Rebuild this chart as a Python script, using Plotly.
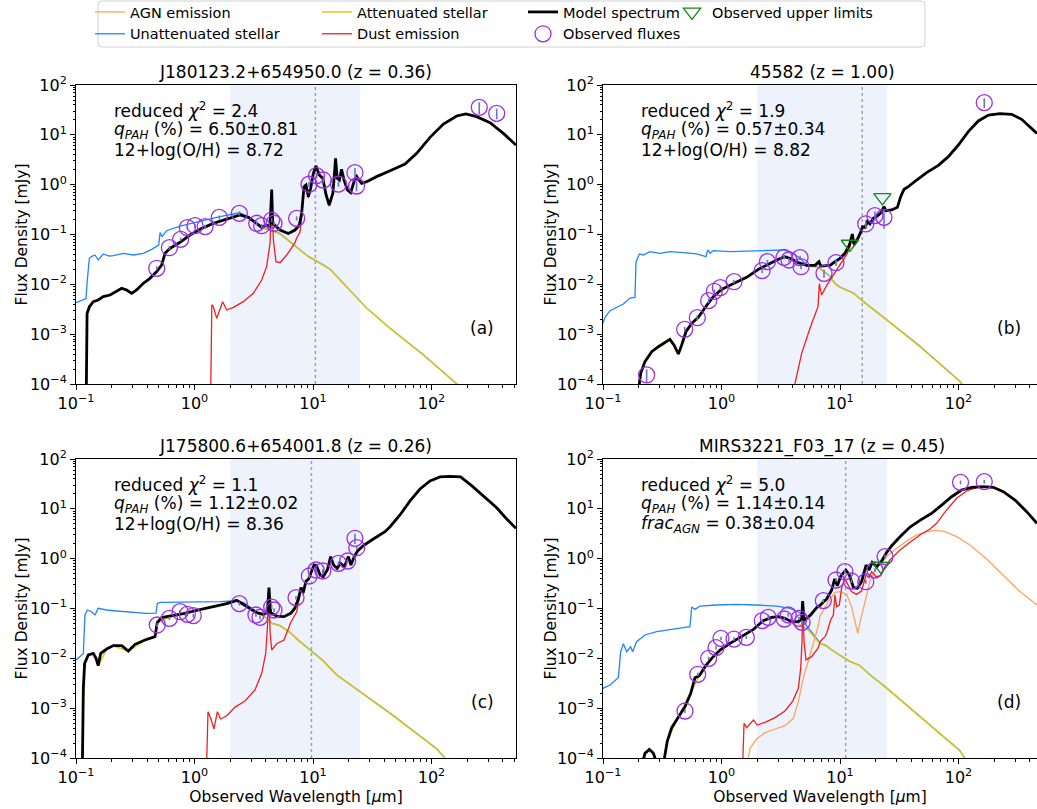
import plotly.graph_objects as go

# ---------------------------------------------------------------
# SED fits: wavelength [um] / flux density [mJy] pairs per component
# ---------------------------------------------------------------

# (a) J180123.2+654950.0, z = 0.36
a_unatt = [(0.1, 4.3e-3), (0.1214, 5.2e-3), (0.1246, 0.0122), (0.1296, 0.0333), (0.135, 0.036),
           (0.1445, 0.0388), (0.154, 0.0308), (0.170, 0.0407), (0.19, 0.037), (0.2065, 0.0376),
           (0.251, 0.0419), (0.305, 0.0388), (0.370, 0.0419), (0.435, 0.0503), (0.499, 0.0615),
           (0.512, 0.109), (0.532, 0.0906), (0.582, 0.119), (0.755, 0.148), (0.977, 0.172),
           (1.27, 0.195), (1.64, 0.228), (2.13, 0.258), (2.42, 0.274), (2.85, 0.225), (3.24, 0.176),
           (3.69, 0.14), (3.94, 0.131), (4.48, 0.121), (5.27, 0.104), (6.4, 0.073), (7.76, 0.0495),
           (9.13, 0.0363), (10.4, 0.0311), (11.5, 0.0266), (13.9, 0.0202), (18.0, 0.0106),
           (28.4, 3.33e-3), (44.7, 1.32e-3), (85.3, 3.85e-4), (163, 1.01e-4), (198, 6.6e-5)]
a_att = [(0.122, 5e-5), (0.124, 2.6e-3), (0.140, 4.45e-3), (0.170, 5.6e-3), (0.220, 7.1e-3),
         (0.243, 8.2e-3), (0.295, 6.6e-3), (0.370, 0.0104), (0.480, 0.0179), (0.528, 0.0243),
         (0.564, 0.0417), (0.755, 0.0695), (1.11, 0.1265), (1.44, 0.166), (1.87, 0.2),
         (2.42, 0.244), (2.85, 0.219), (3.24, 0.171), (3.69, 0.136), (3.94, 0.129), (4.48, 0.119),
         (5.27, 0.102), (6.4, 0.0718), (7.76, 0.0489), (9.13, 0.0359), (10.4, 0.0308),
         (11.5, 0.0264), (13.9, 0.020), (18.0, 0.0105), (28.4, 3.3e-3), (44.7, 1.31e-3),
         (85.3, 3.82e-4), (163, 1.0e-4), (198, 6.5e-5)]
a_dust = [(1.369, 5e-5), (1.40, 3.9e-3), (1.44, 3.6e-3), (1.54, 2.08e-3), (1.73, 4.49e-3),
          (1.87, 3.05e-3), (2.13, 3.46e-3), (2.58, 4.49e-3), (3.14, 6.6e-3), (3.69, 0.0122),
          (4.06, 0.0226), (4.34, 0.0665), (4.48, 0.67), (4.63, 0.0776), (4.87, 0.0285),
          (5.27, 0.0272), (6.0, 0.0388), (7.05, 0.0685), (7.28, 0.085), (7.76, 0.11),
          (8.02, 0.215), (8.40, 0.86), (8.73, 0.94), (9.13, 0.535), (9.56, 0.81), (10.07, 1.65),
          (10.6, 2.33), (11.3, 1.53), (12.1, 1.31), (12.9, 0.59), (13.7, 0.37), (14.7, 0.65),
          (15.1, 1.43), (15.5, 3.35), (16.0, 1.32), (16.7, 1.23), (17.4, 2.02), (18.3, 1.23),
          (19.5, 0.77), (20.8, 0.68), (22.2, 1.14), (23.4, 1.44), (24.4, 1.23), (25.7, 1.055),
          (28.4, 1.147), (34.4, 1.448), (44.7, 1.91), (59.8, 2.6), (75.0, 4.26), (97.1, 8.9),
          (126, 16.5), (163, 23.9), (195, 26.2), (240, 23.2), (312, 17.5), (404, 10.7), (516, 6.25)]
a_model = [(0.122, 5e-5), (0.124, 2.6e-3), (0.1296, 3.56e-3), (0.140, 4.49e-3), (0.154, 4.85e-3),
           (0.170, 5.66e-3), (0.194, 6.11e-3), (0.220, 7.13e-3), (0.243, 8.3e-3), (0.268, 7.7e-3),
           (0.295, 6.6e-3), (0.325, 7.7e-3), (0.370, 0.0105), (0.421, 0.0132), (0.480, 0.0180),
           (0.528, 0.0244), (0.564, 0.0419), (0.621, 0.0527), (0.755, 0.0697), (0.916, 0.0977),
           (1.11, 0.127), (1.44, 0.167), (1.87, 0.201), (2.42, 0.246), (2.85, 0.221), (3.24, 0.173),
           (3.69, 0.139), (4.06, 0.155), (4.34, 0.144), (4.48, 0.80), (4.57, 0.168), (5.27, 0.123),
           (6.19, 0.105), (7.05, 0.123), (7.67, 0.155), (8.02, 0.266), (8.40, 0.91), (8.73, 0.985),
           (9.13, 0.574), (9.56, 0.845), (10.07, 1.69), (10.6, 2.37), (11.3, 1.56), (12.1, 1.34),
           (12.9, 0.621), (13.7, 0.391), (14.7, 0.67), (15.1, 1.45), (15.5, 3.37), (16.0, 1.34),
           (16.7, 1.24), (17.4, 2.03), (18.3, 1.24), (19.5, 0.78), (20.8, 0.69), (22.2, 1.15),
           (23.4, 1.45), (24.4, 1.24), (25.7, 1.06), (28.4, 1.15), (34.4, 1.45), (44.7, 1.91),
           (59.8, 2.60), (75.0, 4.26), (97.1, 8.9), (126, 16.5), (163, 23.9), (195, 26.2),
           (240, 23.2), (312, 17.5), (404, 10.7), (516, 6.25)]
a_obs = [(0.48, 0.021), (0.614, 0.0544), (0.764, 0.080), (0.87, 0.137), (1.01, 0.150), (1.23, 0.144),
         (1.62, 0.221), (2.39, 0.266), (3.35, 0.168), (3.69, 0.150), (4.48, 0.195), (4.69, 0.168),
         (7.28, 0.211), (9.25, 1.02), (10.7, 1.52), (12.2, 1.24), (16.4, 1.03), (22.6, 1.74),
         (23.3, 0.94), (253, 35.6), (355, 27.0)]
a_obs_err = [0.002, 0.005, 0.007, 0.012, 0.013, 0.013, 0.02, 0.025, 0.015, 0.014, 0.018, 0.015,
             0.02, 0.12, 0.18, 0.15, 0.12, 0.42, 0.2, 9.5, 6.5]
a_upper = []

# (b) 45582, z = 1.00
b_unatt = [(0.1, 1.66e-3), (0.104, 2.18e-3), (0.1146, 2.96e-3), (0.130, 3.46e-3), (0.1485, 4.03e-3),
           (0.169, 5.3e-3), (0.186, 5.48e-3), (0.190, 0.0285), (0.203, 0.0407), (0.219, 0.0388),
           (0.249, 0.0453), (0.303, 0.0419), (0.367, 0.0453), (0.477, 0.0433), (0.616, 0.0407),
           (0.740, 0.0359), (0.764, 0.0489), (0.80, 0.0419), (0.853, 0.0474), (1.18, 0.0453),
           (1.74, 0.0467), (2.57, 0.0474), (3.32, 0.0489), (3.91, 0.0433), (4.6, 0.0333),
           (5.23, 0.0245), (6.36, 0.0226), (6.78, 0.021), (8.24, 0.0145), (9.07, 0.0104),
           (10.0, 8.8e-3), (13.0, 6.7e-3), (15.7, 4.55e-3), (24.8, 1.95e-3), (47.3, 5.7e-4),
           (103, 1.13e-4), (113.5, 8.3e-5)]
b_att = [(0.195, 5e-5), (0.208, 1.64e-4), (0.226, 2.8e-4), (0.2575, 4.45e-4), (0.333, 6.7e-4),
         (0.367, 7.85e-4), (0.4325, 4.0e-4), (0.501, 1.11e-3), (0.637, 2.17e-3), (0.853, 5.64e-3),
         (1.26, 0.0105), (1.63, 0.0137), (2.05, 0.0199), (2.48, 0.0255), (3.02, 0.0316),
         (3.43, 0.0356), (3.91, 0.032), (4.17, 0.0295), (4.45, 0.027), (5.23, 0.0236),
         (6.36, 0.0220), (6.78, 0.0205), (8.24, 0.0143), (9.07, 0.0102), (10.0, 8.7e-3),
         (13.0, 6.6e-3), (15.7, 4.49e-3), (24.8, 1.92e-3), (47.3, 5.6e-4), (103, 1.11e-4),
         (113.5, 8.2e-5)]
b_dust = [(3.9, 5e-5), (4.75, 4.12e-4), (5.58, 1.31e-3), (6.52, 3.56e-3), (6.69, 0.0102),
          (7.0, 6.1e-3), (7.72, 9.5e-3), (8.79, 0.0155), (10.0, 0.024), (11.4, 0.04), (12.1, 0.055),
          (12.7, 0.095), (13.1, 0.058), (14.0, 0.074), (14.9, 0.103), (15.5, 0.138), (16.3, 0.134),
          (17.0, 0.176), (17.9, 0.158), (19.1, 0.206), (20.6, 0.231), (22.2, 0.27), (23.5, 0.358),
          (24.4, 0.297), (27.3, 0.308), (30.5, 0.349), (32.5, 0.572), (34.7, 0.804), (37.7, 0.91),
          (44.4, 1.24), (53.8, 1.74), (67.6, 2.44), (82.1, 3.65), (99.7, 6.25), (121, 11.6),
          (147, 19.0), (179, 25.0), (224, 26.6), (281, 25.8), (341, 20.5), (401, 14.6), (459, 10.7)]
b_model = [(0.195, 5e-5), (0.208, 1.64e-4), (0.226, 2.81e-4), (0.2575, 4.46e-4), (0.293, 5.6e-4),
           (0.333, 6.76e-4), (0.367, 7.88e-4), (0.397, 6.07e-4), (0.4325, 4.0e-4), (0.4615, 6.07e-4),
           (0.501, 1.12e-3), (0.560, 1.65e-3), (0.637, 2.18e-3), (0.750, 3.79e-3), (0.853, 5.66e-3),
           (1.0, 7.94e-3), (1.26, 0.0105), (1.63, 0.0138), (2.05, 0.020), (2.48, 0.0256),
           (3.02, 0.0318), (3.43, 0.0359), (3.91, 0.0322), (4.45, 0.0272), (5.23, 0.024),
           (6.15, 0.024), (6.65, 0.0285), (6.87, 0.0233), (7.23, 0.0237), (8.24, 0.024),
           (9.07, 0.0285), (10.0, 0.0333), (11.0, 0.0419), (12.0, 0.0615), (12.7, 0.102),
           (13.1, 0.0644), (14.0, 0.080), (14.9, 0.109), (15.5, 0.144), (16.3, 0.139), (17.0, 0.181),
           (17.9, 0.163), (19.1, 0.211), (20.6, 0.235), (22.2, 0.274), (23.5, 0.362), (24.4, 0.30),
           (27.3, 0.31), (30.5, 0.351), (32.5, 0.574), (34.7, 0.806), (37.7, 0.912), (44.4, 1.24),
           (53.8, 1.74), (67.6, 2.44), (82.1, 3.65), (99.7, 6.25), (121, 11.6), (147, 19.0),
           (179, 25.0), (224, 26.6), (281, 25.8), (341, 20.5), (401, 14.6), (459, 10.7)]
b_obs = [(0.2335, 1.52e-4), (0.489, 1.25e-3), (0.625, 2.14e-3), (0.779, 4.7e-3), (0.87, 7.24e-3),
         (0.977, 8.57e-3), (1.275, 0.0113), (2.2, 0.0188), (2.44, 0.0285), (3.37, 0.0348),
         (3.71, 0.0308), (4.6, 0.0343), (4.69, 0.0226), (7.33, 0.0166), (9.25, 0.0272),
         (16.5, 0.163), (19.7, 0.239), (23.5, 0.221), (165, 44.2)]
b_obs_err = [4.5e-5, 1.5e-4, 2.5e-4, 5e-4, 7e-4, 8e-4, 1e-3, 2e-3, 2.5e-3, 3e-3, 3e-3, 3e-3,
             2.5e-3, 3e-3, 4e-3, 0.03, 0.05, 0.09, 10]
b_upper = [(12.1, 0.0644), (22.8, 0.557)]

# (c) J175800.6+654001.8, z = 0.26
c_unatt = [(0.1, 9.3e-3), (0.1153, 0.0124), (0.119, 0.0741), (0.1246, 0.0933), (0.1355, 0.0863),
           (0.1445, 0.0741), (0.154, 0.1007), (0.1815, 0.0933), (0.220, 0.0891), (0.286, 0.0838),
           (0.394, 0.080), (0.473, 0.081), (0.485, 0.125), (0.512, 0.133), (0.755, 0.133),
           (1.11, 0.137), (1.64, 0.137), (2.13, 0.1415), (2.58, 0.133), (2.94, 0.106), (3.35, 0.085),
           (3.81, 0.072), (4.48, 0.051), (5.27, 0.0452), (6.4, 0.0331), (7.76, 0.0217),
           (9.44, 0.0149), (12.2, 8.95e-3), (15.8, 4.68e-3), (24.9, 2.16e-3), (44.7, 7.95e-4),
           (110.6, 1.53e-4), (130, 9.9e-5)]
c_att = [(0.113, 5e-5), (0.1168, 7.6e-3), (0.127, 0.0116), (0.140, 0.0125), (0.154, 7.1e-3),
         (0.1815, 0.0153), (0.2065, 0.0179), (0.2765, 0.0139), (0.382, 0.0232), (0.464, 0.0271),
         (0.485, 0.0518), (0.641, 0.0704), (1.04, 0.0915), (1.40, 0.1065), (1.87, 0.1245),
         (2.27, 0.1455), (2.58, 0.1205), (2.94, 0.1), (3.35, 0.081), (3.81, 0.0706), (4.48, 0.0503),
         (5.27, 0.0446), (6.4, 0.0327), (7.76, 0.0214), (9.44, 0.0147), (12.2, 8.86e-3),
         (15.8, 4.63e-3), (24.9, 2.14e-3), (44.7, 7.88e-4), (110.6, 1.52e-4), (130, 9.8e-5)]
c_dust = [(1.26, 5e-5), (1.30, 8.5e-4), (1.37, 6.25e-4), (1.46, 3.82e-4), (1.56, 8.5e-4),
          (1.66, 6.07e-4), (1.87, 7.06e-4), (2.2, 1.05e-3), (2.67, 1.39e-3), (3.24, 2.32e-3),
          (3.69, 5.0e-3), (3.99, 0.0126), (4.14, 0.048), (4.25, 0.224), (4.34, 0.0353),
          (4.48, 0.0147), (4.94, 0.0197), (5.69, 0.0233), (6.48, 0.052), (7.28, 0.0863),
          (7.93, 0.24), (8.28, 0.19), (8.73, 0.335), (9.19, 0.37), (9.75, 0.575), (10.2, 0.73),
          (10.7, 0.71), (11.5, 0.455), (12.2, 0.422), (13.2, 0.582), (14.1, 1.09), (14.9, 0.737),
          (16.0, 0.633), (17.1, 0.8), (18.4, 0.685), (19.9, 1.095), (20.9, 0.742), (22.3, 1.097),
          (23.8, 1.427), (26.6, 1.818), (32.3, 2.478), (40.5, 3.479), (44.7, 4.379), (54.2, 7.52),
          (65.9, 14.4), (80.0, 25.0), (97.1, 36.2), (118, 43.6), (143, 44.9), (176, 43.6),
          (218, 29.2), (274, 18.4), (355, 10.5), (431, 6.25), (516, 4.06)]
c_model = [(0.113, 5e-5), (0.1153, 2.5e-3), (0.1183, 7.94e-3), (0.127, 0.0117), (0.140, 0.0126),
           (0.1476, 0.010), (0.154, 7.13e-3), (0.1615, 0.0126), (0.1815, 0.0154), (0.2065, 0.018),
           (0.243, 0.018), (0.2765, 0.014), (0.315, 0.0191), (0.382, 0.0233), (0.464, 0.0272),
           (0.485, 0.052), (0.528, 0.0655), (0.641, 0.0706), (0.805, 0.0787), (1.04, 0.0918),
           (1.40, 0.107), (1.87, 0.125), (2.27, 0.146), (2.58, 0.121), (2.94, 0.1007),
           (3.35, 0.0824), (3.81, 0.0763), (4.12, 0.0824), (4.25, 0.262), (4.39, 0.0824),
           (4.94, 0.0706), (5.69, 0.0685), (6.48, 0.080), (7.0, 0.10), (7.52, 0.155), (7.93, 0.262),
           (8.28, 0.211), (8.73, 0.356), (9.19, 0.391), (9.75, 0.593), (10.2, 0.746), (10.7, 0.724),
           (11.5, 0.47), (12.2, 0.435), (13.2, 0.593), (14.1, 1.10), (14.9, 0.746), (16.0, 0.64),
           (17.1, 0.806), (18.4, 0.69), (19.9, 1.10), (20.9, 0.746), (22.3, 1.10), (23.8, 1.43),
           (26.6, 1.82), (32.3, 2.48), (40.5, 3.48), (44.7, 4.38), (54.2, 7.52), (65.9, 14.4),
           (80.0, 25.0), (97.1, 36.2), (118, 43.6), (143, 44.9), (176, 43.6), (218, 29.2),
           (274, 18.4), (355, 10.5), (431, 6.25), (516, 4.06)]
c_obs = [(0.485, 0.0467), (0.614, 0.0635), (0.755, 0.0863), (0.87, 0.0763), (0.977, 0.0718),
         (2.39, 0.125), (3.30, 0.0741), (3.57, 0.0665), (4.48, 0.107), (4.69, 0.0933),
         (7.19, 0.165), (9.31, 0.449), (10.6, 0.593), (12.1, 0.566), (16.4, 0.806), (19.6, 0.897),
         (22.6, 2.56), (23.4, 1.66)]
c_obs_err = [0.004, 0.005, 0.007, 0.006, 0.006, 0.01, 0.006, 0.006, 0.009, 0.008, 0.014, 0.04,
             0.05, 0.05, 0.07, 0.08, 0.6, 0.15]
c_upper = []

# (d) MIRS3221_F03_17, z = 0.45
d_unatt = [(0.1, 2.5e-3), (0.1146, 2.92e-3), (0.1347, 4.09e-3), (0.141, 0.0136), (0.1485, 0.0197),
           (0.1585, 0.0136), (0.171, 0.0171), (0.178, 0.0136), (0.192, 0.0216), (0.226, 0.0294),
           (0.284, 0.0343), (0.367, 0.0382), (0.477, 0.0412), (0.542, 0.0432), (0.560, 0.107),
           (0.597, 0.096), (0.659, 0.112), (0.91, 0.1175), (1.34, 0.121), (1.98, 0.1175),
           (2.92, 0.112), (3.79, 0.1007), (4.6, 0.0824), (5.23, 0.045), (6.36, 0.0237),
           (6.78, 0.0203), (7.72, 0.0178), (8.24, 0.0156), (10.0, 0.0115), (12.1, 8.7e-3),
           (14.7, 7.2e-3), (17.9, 4.7e-3), (24.8, 2.53e-3), (47.3, 6.85e-4), (103, 1.4e-4),
           (113.5, 9.6e-5)]
d_att = [(0.205, 5e-5), (0.226, 1.24e-4), (0.246, 1.48e-4), (0.266, 1.23e-4), (0.284, 8e-5),
         (0.30, 4e-5), (0.33, 1e-4), (0.349, 2.18e-4), (0.418, 5.8e-4), (0.55, 1.98e-3),
         (0.65, 4.47e-3), (0.826, 9.95e-3), (1.18, 0.0199), (1.86, 0.038), (2.25, 0.0568),
         (2.65, 0.0663), (3.02, 0.0684), (3.43, 0.063), (3.91, 0.054), (4.45, 0.0503), (5.23, 0.040),
         (6.36, 0.0233), (6.78, 0.020), (7.72, 0.0175), (8.24, 0.0154), (10.0, 0.0113),
         (12.1, 8.57e-3), (14.7, 7.13e-3), (17.9, 4.63e-3), (24.8, 2.5e-3), (47.3, 6.76e-4),
         (103, 1.38e-4), (113.5, 9.5e-5)]
d_agn = [(1.6, 5e-5), (1.74, 1.56e-4), (1.98, 2.4e-4), (2.33, 3.22e-4), (2.83, 3.82e-4),
         (3.43, 4.46e-4), (4.04, 6.25e-4), (4.45, 1.35e-3), (4.9, 3.97e-3), (5.58, 0.0117),
         (6.1, 0.025), (6.56, 0.045), (6.78, 0.07), (7.97, 0.137), (9.07, 0.211), (10.0, 0.218),
         (11.4, 0.192), (12.5, 0.109), (13.4, 0.0544), (14.1, 0.0318), (14.9, 0.0587),
         (16.3, 0.148), (17.9, 0.345), (19.7, 0.593), (22.5, 0.844), (25.6, 1.19), (30.1, 1.61),
         (36.5, 2.26), (44.4, 2.99), (53.8, 3.48), (63.4, 3.7), (76.9, 3.48), (96.6, 2.76),
         (125, 1.88), (173, 0.984), (239, 0.47), (330, 0.218), (459, 0.117)]
d_dust = [(1.5, 5e-5), (1.55, 4.96e-4), (1.63, 4.06e-4), (1.86, 5.8e-4), (2.0, 4.59e-4),
          (2.33, 5.2e-4), (2.83, 6.45e-4), (3.43, 8.77e-4), (3.99, 1.39e-3), (4.45, 2.5e-3),
          (4.66, 6.3e-3), (4.78, 0.0216), (4.84, 0.137), (4.97, 0.0216), (5.16, 9.3e-3),
          (5.77, 0.0108), (6.56, 0.0164), (6.78, 0.0216), (7.47, 0.0272), (7.72, 0.0318),
          (8.34, 0.0587), (8.79, 0.0741), (9.07, 0.187), (9.37, 0.109), (9.87, 0.117),
          (10.3, 0.254), (11.0, 0.40), (11.5, 0.32), (12.5, 0.218), (13.8, 0.192), (15.2, 0.224),
          (16.6, 0.47), (17.6, 0.416), (18.5, 0.548), (20.1, 0.435), (22.0, 0.456), (24.0, 0.69),
          (26.4, 0.94), (32.1, 1.49), (39.0, 2.13), (47.3, 2.99), (57.5, 3.94), (65.4, 5.12),
          (79.4, 9.5), (96.6, 16.3), (117, 22.8), (142, 26.6), (173, 27.5), (197, 26.5),
          (239, 21.8), (300, 14.8), (376, 8.65), (459, 5.05)]
d_model = [(0.205, 5e-5), (0.226, 1.24e-4), (0.246, 1.49e-4), (0.266, 1.24e-4), (0.284, 8e-5),
           (0.30, 4e-5), (0.33, 1e-4), (0.349, 2.19e-4), (0.380, 4.06e-4), (0.418, 5.8e-4),
           (0.492, 1.07e-3), (0.55, 1.99e-3), (0.597, 4.09e-3), (0.65, 4.49e-3), (0.726, 6.8e-3),
           (0.826, 0.010), (0.97, 0.0147), (1.18, 0.020), (1.48, 0.0272), (1.86, 0.0382),
           (2.25, 0.057), (2.65, 0.0665), (3.02, 0.0686), (3.43, 0.0635), (3.91, 0.0544),
           (4.45, 0.0544), (4.75, 0.0615), (4.84, 0.1415), (4.97, 0.0587), (5.58, 0.0718),
           (6.36, 0.104), (6.78, 0.115), (7.23, 0.135), (7.72, 0.155), (8.51, 0.235), (9.02, 0.391),
           (9.5, 0.287), (10.1, 0.435), (11.2, 0.593), (12.0, 0.47), (13.0, 0.262), (14.0, 0.254),
           (15.2, 0.345), (16.6, 0.746), (17.6, 0.593), (18.7, 0.844), (20.4, 0.69), (22.5, 0.897),
           (24.8, 1.34), (27.3, 1.82), (32.1, 2.76), (39.0, 4.32), (47.3, 5.88), (59.4, 8.13),
           (72.1, 11.9), (87.5, 17.5), (106, 23.9), (129, 27.0), (162, 27.8), (197, 27.0),
           (239, 22.1), (300, 15.0), (376, 8.77), (459, 5.12)]
d_obs = [(0.492, 8.77e-4), (0.63, 4.78e-3), (0.779, 0.010), (0.899, 0.0164), (0.99, 0.0252),
         (1.275, 0.0244), (1.62, 0.0264), (2.21, 0.057), (2.48, 0.0665), (3.39, 0.0615),
         (3.66, 0.0741), (4.51, 0.0635), (4.78, 0.0527), (7.23, 0.144), (9.25, 0.373),
         (11.0, 0.548), (12.5, 0.356), (16.5, 0.345), (19.7, 0.593), (24.0, 1.10), (104, 34.0),
         (165, 35.1)]
d_obs_err = [8e-5, 4e-4, 8e-4, 1.3e-3, 2e-3, 2e-3, 2e-3, 5e-3, 6e-3, 5e-3, 6e-3, 5e-3, 5e-3,
             0.012, 0.03, 0.05, 0.03, 0.03, 0.05, 0.1, 3.0, 3.0]
d_upper = [(22.2, 0.71)]

# Panel headers and fit statistics
titles = ["J180123.2+654950.0 (z = 0.36)", "45582 (z = 1.00)",
          "J175800.6+654001.8 (z = 0.26)", "MIRS3221_F03_17 (z = 0.45)"]
redshifts = [0.36, 1.00, 0.26, 0.45]
chi2 = ["2.4", "1.9", "1.1", "5.0"]
qpah = ["6.50±0.81", "0.57±0.34", "1.12±0.02", "1.14±0.14"]
third_line = ["12+log(O/H) = 8.72", "12+log(O/H) = 8.82", "12+log(O/H) = 8.36",
              "<i>frac<sub>AGN</sub></i> = 0.38±0.04"]
tags = ["(a)", "(b)", "(c)", "(d)"]
mir_band = (2.0, 25.0)   # shaded mid-IR window [um]
pah_rest = 7.7           # rest-frame PAH feature marked by the dotted line [um]

x_tickvals = [0.1, 1, 10, 100]
x_ticktext = ["10<sup>−1</sup>", "10<sup>0</sup>", "10<sup>1</sup>", "10<sup>2</sup>"]
y_tickvals = [1e-4, 1e-3, 1e-2, 1e-1, 1, 10, 100]
y_ticktext = ["10<sup>−4</sup>", "10<sup>−3</sup>", "10<sup>−2</sup>", "10<sup>−1</sup>",
              "10<sup>0</sup>", "10<sup>1</sup>", "10<sup>2</sup>"]
y_label = "Flux Density [mJy]"
x_label = "Observed Wavelength [<i>μ</i>m]"

# ---------------------------------------------------------------
W, H = 1037, 809
FONT = "DejaVu Sans"
C_UNATT, C_ATT, C_DUST, C_AGN, C_MODEL = "#1f85ff", "#e6c80a", "#f21f1f", "#ffa35e", "black"
C_OBS, C_ERR, C_UP = "#9b2fe6", "#6f6fdc", "#138a13"

# panel boxes in pixels: (left, right, top, bottom)
boxes = [(76, 516, 85, 384), (603, 1037, 85, 384), (76, 516, 459, 758), (603, 1037, 459, 758)]
decade_px = 118.5
ylabel_x = [21, 550, 21, 550]

panels = [
    (a_unatt, a_att, None, a_dust, a_model, a_obs, a_obs_err, a_upper),
    (b_unatt, b_att, None, b_dust, b_model, b_obs, b_obs_err, b_upper),
    (c_unatt, c_att, None, c_dust, c_model, c_obs, c_obs_err, c_upper),
    (d_unatt, d_att, d_agn, d_dust, d_model, d_obs, d_obs_err, d_upper),
]

fig = go.Figure()
shown = set()


def xs(pts):
    return [p[0] for p in pts]


def ys(pts):
    return [p[1] for p in pts]


def first(name):
    if name in shown:
        return False
    shown.add(name)
    return True


legend_of = {"AGN emission": ("legend", 1), "Unattenuated stellar": ("legend", 2),
             "Attenuated stellar": ("legend2", 1), "Dust emission": ("legend2", 2),
             "Model spectrum": ("legend3", 1), "Observed fluxes": ("legend3", 2),
             "Observed upper limits": ("legend4", 1)}


def add_line(pts, name, color, width, xa, ya):
    lg, rank = legend_of[name]
    fig.add_trace(go.Scatter(x=xs(pts), y=ys(pts), mode="lines", name=name,
                             line=dict(color=color, width=width),
                             xaxis=xa, yaxis=ya, legend=lg, legendrank=rank,
                             showlegend=first(name), hoverinfo="skip"))


minor_x = [k * 10.0 ** e for e in range(-1, 3) for k in range(2, 10)]
minor_y = [k * 10.0 ** e for e in range(-4, 2) for k in range(2, 10)]

for i, (unatt, att, agn, dust, model, obs, err, upper) in enumerate(panels):
    n = "" if i == 0 else str(i + 1)
    xa, ya = "x" + n, "y" + n
    left, right, top, bottom = boxes[i]
    span = (right - left) / decade_px

    add_line(unatt, "Unattenuated stellar", C_UNATT, 1.3, xa, ya)
    add_line(att, "Attenuated stellar", C_ATT, 1.5, xa, ya)
    if agn is not None:
        add_line(agn, "AGN emission", C_AGN, 1.3, xa, ya)
    add_line(dust, "Dust emission", C_DUST, 1.3, xa, ya)
    add_line(model, "Model spectrum", C_MODEL, 2.8, xa, ya)

    fig.add_trace(go.Scatter(
        x=xs(obs), y=ys(obs), mode="markers", name="Observed fluxes",
        marker=dict(symbol="circle-open", size=16, color=C_OBS, line=dict(width=1.3)),
        error_y=dict(type="data", array=err, color=C_ERR, thickness=1.6, width=0),
        xaxis=xa, yaxis=ya, legend="legend3", legendrank=2,
        showlegend=first("Observed fluxes"), hoverinfo="skip"))
    if upper:
        fig.add_trace(go.Scatter(
            x=xs(upper), y=ys(upper), mode="markers", name="Observed upper limits",
            marker=dict(symbol="triangle-down-open", size=15, color=C_UP, line=dict(width=1.3)),
            xaxis=xa, yaxis=ya, legend="legend4", legendrank=1,
            showlegend=first("Observed upper limits"), hoverinfo="skip"))

    bottom_row = i >= 2
    fig.update_layout({
        "xaxis" + n: dict(
            type="log", domain=[left / W, right / W], range=[-1, -1 + span], anchor=ya,
            automargin=False,
            showline=True, linecolor="black", linewidth=1, mirror=True,
            ticks="outside", ticklen=5, tickwidth=1, tickcolor="black",
            tickvals=x_tickvals, ticktext=x_ticktext, tickfont=dict(size=16, color="black"),
            minor=dict(ticks="outside", ticklen=2.5, tickwidth=0.8, tickcolor="black",
                       tickvals=minor_x, showgrid=False),
            showgrid=False, zeroline=False,
            title=dict(text=x_label if bottom_row else "",
                       font=dict(size=15.5, color="black"), standoff=4)),
        "yaxis" + n: dict(
            type="log", domain=[(H - bottom) / H, (H - top) / H], range=[-4, 2], anchor=xa,
            automargin=False,
            showline=True, linecolor="black", linewidth=1, mirror=True,
            ticks="outside", ticklen=5, tickwidth=1, tickcolor="black",
            tickvals=y_tickvals, ticktext=y_ticktext, tickfont=dict(size=16, color="black"),
            minor=dict(ticks="outside", ticklen=2.5, tickwidth=0.8, tickcolor="black",
                       tickvals=minor_y, showgrid=False),
            showgrid=False, zeroline=False),
    })

    # y-axis label, placed at a fixed offset left of the frame
    fig.add_annotation(text=y_label, xref="paper", yref="paper", textangle=-90,
                       x=ylabel_x[i] / W, y=(H - (top + bottom) / 2) / H,
                       xanchor="center", yanchor="middle", showarrow=False,
                       font=dict(size=15.5, color="black"))

    # mid-IR window and redshifted PAH marker
    fig.add_shape(type="rect", xref=xa, yref=ya + " domain", x0=mir_band[0], x1=mir_band[1],
                  y0=0, y1=1, fillcolor="#edf2fc", line=dict(width=0), layer="below")
    fig.add_shape(type="line", xref=xa, yref=ya + " domain",
                  x0=pah_rest * (1 + redshifts[i]), x1=pah_rest * (1 + redshifts[i]),
                  y0=0, y1=1, line=dict(color="#a3a3a3", width=1.5, dash="dot"), layer="below")

    # panel title
    full_right = left + (2.699 + 1) * decade_px
    fig.add_annotation(text=titles[i], xref="paper", yref="paper",
                       x=(left + full_right) / 2 / W, y=(H - (top - 13)) / H,
                       xanchor="center", yanchor="middle", showarrow=False,
                       font=dict(size=17, color="black"))

    # fit statistics
    lines = ["reduced <i>χ</i><sup>2</sup> = " + chi2[i],
             "<i>q<sub>PAH</sub></i> (%) = " + qpah[i],
             third_line[i]]
    for k, txt in enumerate(lines):
        fig.add_annotation(text=txt, xref=xa + " domain", yref=ya + " domain",
                           x=36 / (right - left), y=1 - (25 + 20 * k) / (bottom - top),
                           xanchor="left", yanchor="middle", showarrow=False,
                           font=dict(size=17, color="black"))
    fig.add_annotation(text=tags[i], xref="paper", yref="paper",
                       x=(full_right - 32) / W, y=(H - (bottom - 56)) / H,
                       xanchor="center", yanchor="middle", showarrow=False,
                       font=dict(size=17, color="black"))

# legend: four columns of stacked entries inside one rounded frame
leg_common = dict(orientation="v", yanchor="top", xanchor="left", y=1 + 4 / H,
                  bgcolor="rgba(0,0,0,0)", borderwidth=0, tracegroupgap=0,
                  font=dict(size=14.5, color="black", family=FONT))
fig.update_layout(
    legend=dict(x=90 / W, **leg_common),
    legend2=dict(x=317 / W, **leg_common),
    legend3=dict(x=523 / W, **leg_common),
    legend4=dict(x=672 / W, **leg_common),
)
fx0, fx1, fy0, fy1, r = 98 / W, 925 / W, 1 - 47 / H, 1 - 1 / H, 4
rx, ry = r / W, r / H
fig.add_shape(type="path", xref="paper", yref="paper", layer="below",
              path=(f"M {fx0 + rx} {fy1} L {fx1 - rx} {fy1} Q {fx1} {fy1} {fx1} {fy1 - ry} "
                    f"L {fx1} {fy0 + ry} Q {fx1} {fy0} {fx1 - rx} {fy0} L {fx0 + rx} {fy0} "
                    f"Q {fx0} {fy0} {fx0} {fy0 + ry} L {fx0} {fy1 - ry} Q {fx0} {fy1} {fx0 + rx} {fy1} Z"),
              line=dict(color="#d0d0d0", width=1), fillcolor="white")

fig.update_layout(
    width=W, height=H, margin=dict(l=0, r=0, t=0, b=0, autoexpand=False),
    paper_bgcolor="white", plot_bgcolor="white",
    font=dict(family=FONT, color="black"),
)

fig.write_html("out.html")
